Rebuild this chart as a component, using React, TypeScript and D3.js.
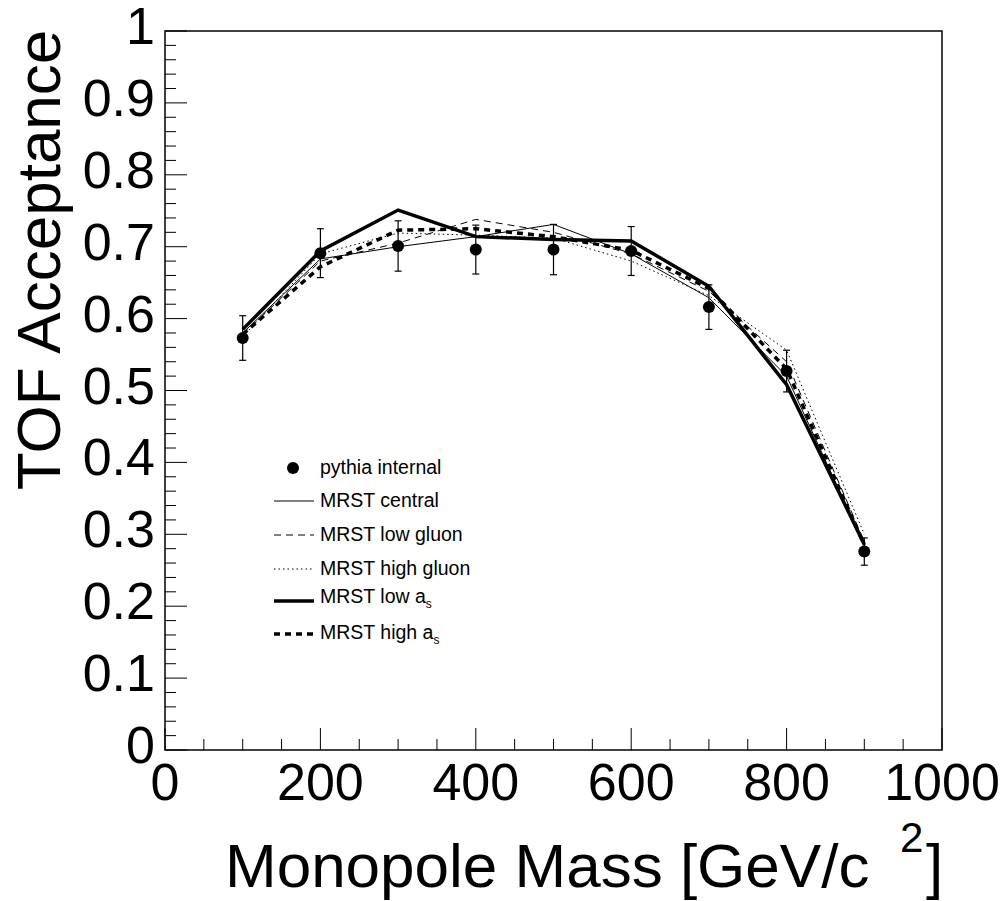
import React from "react";
import * as d3 from "d3";

const masses = [100, 200, 300, 400, 500, 600, 700, 800, 900];
const pythia = [0.573, 0.691, 0.701, 0.696, 0.696, 0.694, 0.616, 0.527, 0.276];
const pythiaErr = [0.031, 0.034, 0.035, 0.034, 0.035, 0.034, 0.031, 0.029, 0.019];
const mrstCentral = [0.580, 0.683, 0.700, 0.714, 0.731, 0.690, 0.629, 0.520, 0.285];
const mrstLowGluon = [0.578, 0.680, 0.705, 0.738, 0.720, 0.690, 0.638, 0.540, 0.290];
const mrstHighGluon = [0.575, 0.690, 0.719, 0.716, 0.712, 0.680, 0.632, 0.556, 0.300];
const mrstLowAs = [0.585, 0.694, 0.751, 0.714, 0.710, 0.708, 0.645, 0.508, 0.286];
const mrstHighAs = [0.578, 0.672, 0.723, 0.725, 0.714, 0.695, 0.642, 0.530, 0.285];

const xTicks = [0, 200, 400, 600, 800, 1000];
const yTicks = [0, 0.1, 0.2, 0.3, 0.4, 0.5, 0.6, 0.7, 0.8, 0.9, 1];

const FONT = "'Liberation Sans', Arial, Helvetica, sans-serif";

type Style = { w: number; dash: string };
const series: { name: string; sub?: string; values: number[]; style: Style }[] = [
  { name: "MRST central", values: mrstCentral, style: { w: 1, dash: "" } },
  { name: "MRST low gluon", values: mrstLowGluon, style: { w: 1, dash: "7,5" } },
  { name: "MRST high gluon", values: mrstHighGluon, style: { w: 1, dash: "1.5,3" } },
  { name: "MRST low a", sub: "s", values: mrstLowAs, style: { w: 3.5, dash: "" } },
  { name: "MRST high a", sub: "s", values: mrstHighAs, style: { w: 3.5, dash: "6,5" } },
];

export default function App() {
  const L = 165, R = 942, T = 31, B = 750;
  const x = d3.scaleLinear().domain([0, 1000]).range([L, R]);
  const y = d3.scaleLinear().domain([0, 1]).range([B, T]);
  const line = d3
    .line<number>()
    .x((_, i) => x(masses[i]))
    .y((d) => y(d));

  const xMinor = d3.range(0, 1001, 50).filter((v) => v % 200 !== 0);
  const yMinor = d3.range(0, 51).map((i) => i * 0.02).filter((_, i) => i % 5 !== 0);

  const legendRows = [
    { label: "pythia internal", ly: 468, ty: 474 },
    { label: "MRST central", ly: 501, ty: 507 },
    { label: "MRST low gluon", ly: 535, ty: 541 },
    { label: "MRST high gluon", ly: 569, ty: 575 },
    { label: "MRST low a", ly: 601, ty: 603 },
    { label: "MRST high a", ly: 634, ty: 639 },
  ];

  return (
    <svg
      width={1003}
      height={901}
      style={{ position: "absolute", left: 0, top: 0, background: "#fff" }}
      fontFamily={FONT}
    >
      <rect x={0} y={0} width={1003} height={901} fill="#fff" />
      {/* frame */}
      <rect x={L} y={T} width={R - L} height={B - T} fill="none" stroke="#000" strokeWidth={1.5} />
      {/* y ticks */}
      {yTicks.map((v) => (
        <g key={"yt" + v}>
          <line x1={L} x2={L + 22} y1={y(v)} y2={y(v)} stroke="#000" strokeWidth={1} />
          <text x={155} y={y(v) + 13} fontSize={52} textAnchor="end">
            {v === 0 ? "0" : v === 1 ? "1" : d3.format(".1f")(v)}
          </text>
        </g>
      ))}
      {yMinor.map((v, i) => (
        <line key={"ym" + i} x1={L} x2={L + 11} y1={y(v)} y2={y(v)} stroke="#000" strokeWidth={1} />
      ))}
      {/* x ticks */}
      {xTicks.map((v) => (
        <g key={"xt" + v}>
          <line x1={x(v)} x2={x(v)} y1={B} y2={B - 22} stroke="#000" strokeWidth={1} />
          <text x={x(v)} y={800} fontSize={52} textAnchor="middle">
            {v}
          </text>
        </g>
      ))}
      {xMinor.map((v) => (
        <line key={"xm" + v} x1={x(v)} x2={x(v)} y1={B} y2={B - 11} stroke="#000" strokeWidth={1} />
      ))}
      {/* axis titles */}
      <text transform="translate(60,260) rotate(-90)" fontSize={62} textAnchor="middle">
        TOF Acceptance
      </text>
      <text x={225} y={887} fontSize={62}>
        Monopole Mass [GeV/c
      </text>
      <text x={900} y={852} fontSize={42}>
        2
      </text>
      <text x={926} y={887} fontSize={62}>
        ]
      </text>
      {/* series lines */}
      {series.map((s) => (
        <path
          key={s.name + (s.sub || "")}
          d={line(s.values) || ""}
          fill="none"
          stroke="#000"
          strokeWidth={s.style.w}
          strokeDasharray={s.style.dash || undefined}
        />
      ))}
      {/* pythia points with error bars */}
      {masses.map((m, i) => (
        <g key={"p" + m}>
          <line x1={x(m)} x2={x(m)} y1={y(pythia[i] + pythiaErr[i])} y2={y(pythia[i] - pythiaErr[i])} stroke="#000" strokeWidth={1.2} />
          <line x1={x(m) - 3.5} x2={x(m) + 3.5} y1={y(pythia[i] + pythiaErr[i])} y2={y(pythia[i] + pythiaErr[i])} stroke="#000" strokeWidth={1.2} />
          <line x1={x(m) - 3.5} x2={x(m) + 3.5} y1={y(pythia[i] - pythiaErr[i])} y2={y(pythia[i] - pythiaErr[i])} stroke="#000" strokeWidth={1.2} />
          <circle cx={x(m)} cy={y(pythia[i])} r={6} fill="#000" />
        </g>
      ))}
      {/* legend */}
      <circle cx={293} cy={legendRows[0].ly} r={6} fill="#000" />
      {series.map((s, i) => (
        <line
          key={"lg" + i}
          x1={274}
          x2={314}
          y1={legendRows[i + 1].ly}
          y2={legendRows[i + 1].ly}
          stroke="#000"
          strokeWidth={s.style.w}
          strokeDasharray={s.style.dash || undefined}
        />
      ))}
      {legendRows.map((r, i) => (
        <text key={"lt" + i} x={320} y={r.ty} fontSize={19.5}>
          {r.label}
          {i >= 4 ? (
            <tspan fontSize={12} dy={5}>
              s
            </tspan>
          ) : null}
        </text>
      ))}
    </svg>
  );
}
